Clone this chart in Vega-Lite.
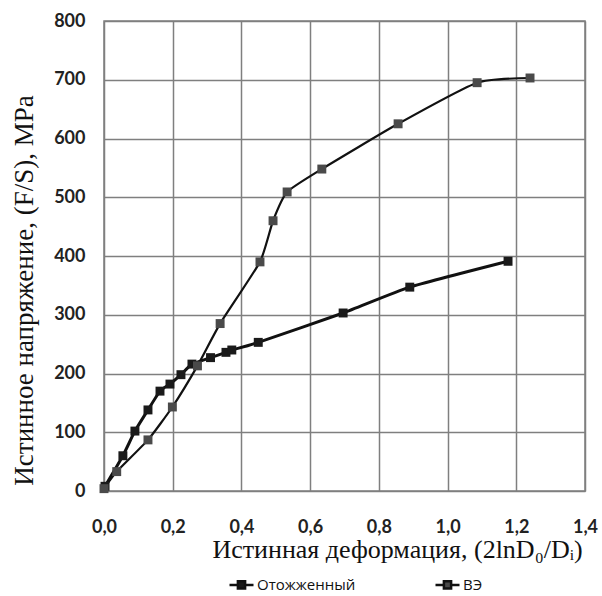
{
  "$schema": "https://vega.github.io/schema/vega-lite/v6.json",
  "autosize": "none",
  "padding": {"left": 104, "top": 21, "right": 17, "bottom": 105},
  "width": 481,
  "height": 470,
  "background": "white",
  "config": {
    "view": {"stroke": "#7f7f7f", "strokeWidth": 1.5},
    "axis": {"gridColor": "#7f7f7f", "gridWidth": 1.5, "gridOpacity": 1, "domain": false, "ticks": false, "tickSize": 0}
  },
  "data": {"values": [
    {"series": "Отожженный", "x": 0.003, "y": 8},
    {"series": "Отожженный", "x": 0.055, "y": 60},
    {"series": "Отожженный", "x": 0.09, "y": 102},
    {"series": "Отожженный", "x": 0.128, "y": 138},
    {"series": "Отожженный", "x": 0.163, "y": 170},
    {"series": "Отожженный", "x": 0.192, "y": 182},
    {"series": "Отожженный", "x": 0.224, "y": 198},
    {"series": "Отожженный", "x": 0.256, "y": 216},
    {"series": "Отожженный", "x": 0.31, "y": 227},
    {"series": "Отожженный", "x": 0.355, "y": 236},
    {"series": "Отожженный", "x": 0.372, "y": 240},
    {"series": "Отожженный", "x": 0.449, "y": 253},
    {"series": "Отожженный", "x": 0.696, "y": 303},
    {"series": "Отожженный", "x": 0.89, "y": 347},
    {"series": "Отожженный", "x": 1.176, "y": 391},
    {"series": "ВЭ", "x": 0.0, "y": 4},
    {"series": "ВЭ", "x": 0.037, "y": 33},
    {"series": "ВЭ", "x": 0.128, "y": 87},
    {"series": "ВЭ", "x": 0.199, "y": 143},
    {"series": "ВЭ", "x": 0.272, "y": 213},
    {"series": "ВЭ", "x": 0.338, "y": 285},
    {"series": "ВЭ", "x": 0.454, "y": 390},
    {"series": "ВЭ", "x": 0.492, "y": 460},
    {"series": "ВЭ", "x": 0.533, "y": 509},
    {"series": "ВЭ", "x": 0.634, "y": 548},
    {"series": "ВЭ", "x": 0.856, "y": 625},
    {"series": "ВЭ", "x": 1.086, "y": 695},
    {"series": "ВЭ", "x": 1.24, "y": 703}
  ]},
  "encoding": {
    "x": {"field": "x", "type": "quantitative",
      "scale": {"domain": [0, 1.4], "nice": false, "zero": false},
      "axis": {"values": [0, 0.2, 0.4, 0.6, 0.8, 1.0, 1.2, 1.4],
        "labelExpr": "replace(format(datum.value, '.1f'), '.', ',')",
        "labelFont": "Lato", "labelFontWeight": "bold", "labelFontSize": 18, "labelColor": "#222",
        "labelPadding": 27, "labelBaseline": "top", "labelFlush": false, "labelOverlap": false,
        "title": "Истинная деформация, (2lnD₀/Dᵢ)",
        "titleFont": "Liberation Serif", "titleFontSize": 26, "titleFontWeight": "normal", "titleColor": "#111",
        "titleX": 293, "titleY": 58, "titleAlign": "center", "titleBaseline": "middle", "titleAnchor": null}},
    "y": {"field": "y", "type": "quantitative",
      "scale": {"domain": [0, 800], "nice": false},
      "axis": {"values": [0, 100, 200, 300, 400, 500, 600, 700, 800],
        "labelFont": "Lato", "labelFontWeight": "bold", "labelFontSize": 18, "labelColor": "#222",
        "labelPadding": 19, "labelOverlap": false, "labelFlush": false,
        "title": "Истинное напряжение, (F/S), MPa",
        "titleFont": "Liberation Serif", "titleFontSize": 27, "titleFontWeight": "normal", "titleColor": "#111",
        "titleAngle": -90, "titleX": -80, "titleY": 269, "titleAlign": "center", "titleBaseline": "middle"}}
  },
  "layer": [
    {
      "transform": [{"filter": "datum.series == 'Отожженный'"}],
      "mark": {"type": "line", "interpolate": "cardinal", "tension": 0.5, "color": "#111", "strokeWidth": 3}
    },
    {
      "transform": [{"filter": "datum.series == 'ВЭ'"}],
      "mark": {"type": "line", "interpolate": "cardinal", "tension": 0.5, "color": "#111", "strokeWidth": 2.2}
    },
    {
      "mark": {"type": "point", "shape": "square", "filled": true, "opacity": 1, "size": 80},
      "encoding": {
        "color": {"field": "series", "type": "nominal",
          "scale": {"domain": ["Отожженный", "ВЭ"], "range": ["#1a1a1a", "#4a4a4a"]},
          "legend": {"title": null, "orient": "none", "direction": "horizontal",
            "legendX": 124, "legendY": 550,
            "symbolType": "M-1,0H-0.3M0.3,0H1M-0.3,-0.3H0.3V0.3H-0.3Z",
            "symbolSize": 576, "symbolStrokeColor": "#111", "symbolStrokeWidth": 2.5,
            "labelFont": "Open Sans", "labelFontSize": 15, "labelColor": "#111",
            "labelOffset": 2, "columnPadding": 74}}
      }
    }
  ]
}
